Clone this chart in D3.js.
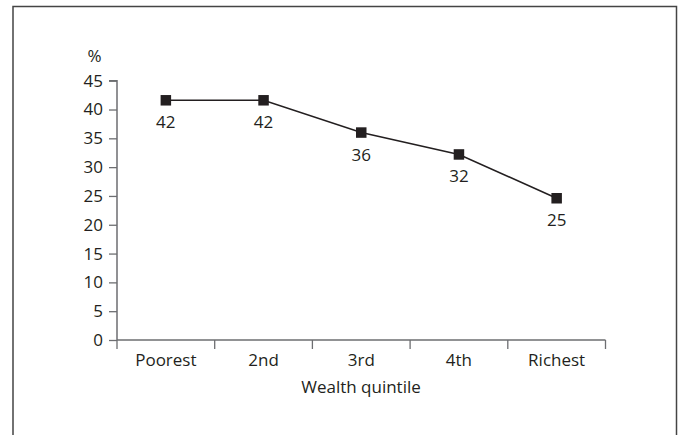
<!DOCTYPE html>
<html><head><meta charset="utf-8">
<script src="https://cdn.jsdelivr.net/npm/d3@7"></script>
<style>body{margin:0;background:#fff}svg{display:block}text{font-family:"Open Sans",sans-serif;fill:#231f20}</style>
</head><body>
<script>
const categories = ["Poorest","2nd","3rd","4th","Richest"];
const values = [41.6, 41.6, 36.0, 32.2, 24.6];
const labels = ["42","42","36","32","25"];
const yTicks = [0,5,10,15,20,25,30,35,40,45];

const W=680,H=435,FS=17;
const svg=d3.select("body").append("svg").attr("width",W).attr("height",H);
svg.append("rect").attr("x",13).attr("y",6.5).attr("width",663.5).attr("height",440)
  .attr("fill","none").attr("stroke","#444").attr("stroke-width",1.5);

const x=d3.scaleBand().domain(categories).range([117,605.5]);
const y=d3.scaleLinear().domain([0,45]).range([340,80.7]);
const axisColor="#6d6e71";

// y axis
const ya=svg.append("g").attr("transform","translate(117,0)")
  .call(d3.axisLeft(y).tickValues(yTicks).tickSize(8).tickPadding(6));
ya.select(".domain").attr("d",`M-8,${y(45)}H0V${y(0)}`);
// x axis
const xa=svg.append("g").attr("transform","translate(0,340)")
  .call(d3.axisBottom(x).tickSize(0));
xa.select(".domain").attr("d",`M117,0H605.5`);
const bounds=[...categories.map(c=>x(c)), x(categories[categories.length-1])+x.bandwidth()];
xa.selectAll(".bt").data(bounds).enter().append("line")
  .attr("x1",d=>d).attr("x2",d=>d).attr("y1",0).attr("y2",9)
  .attr("stroke",axisColor).attr("stroke-width",1.3);
[ya,xa].forEach(a=>{
  a.selectAll(".domain").attr("stroke",axisColor).attr("stroke-width",1.5);
  a.selectAll(".tick line").attr("stroke",axisColor).attr("stroke-width",1.3);
  a.selectAll("text").attr("font-size",FS).attr("fill","#231f20").attr("font-family","'Open Sans',sans-serif");
});
xa.selectAll(".tick text").attr("dy",null).attr("y",25.5);

svg.append("text").attr("x",94.5).attr("y",62).attr("text-anchor","middle").attr("font-size",FS).text("%");
svg.append("text").attr("x",361).attr("y",393).attr("text-anchor","middle").attr("font-size",FS).text("Wealth quintile");

const cx=c=>x(c)+x.bandwidth()/2;
const line=d3.line().x((d,i)=>cx(categories[i])).y(d=>y(d));
svg.append("path").datum(values).attr("d",line).attr("fill","none").attr("stroke","#231f20").attr("stroke-width",1.5);
const s=10.5;
svg.selectAll(".m").data(values).enter().append("rect")
  .attr("x",(d,i)=>cx(categories[i])-s/2).attr("y",d=>y(d)-s/2)
  .attr("width",s).attr("height",s).attr("fill","#231f20");
svg.selectAll(".lbl").data(values).enter().append("text")
  .attr("x",(d,i)=>cx(categories[i])).attr("y",d=>y(d)+28)
  .attr("text-anchor","middle").attr("font-size",FS).text((d,i)=>labels[i]);
</script>
</body></html>
